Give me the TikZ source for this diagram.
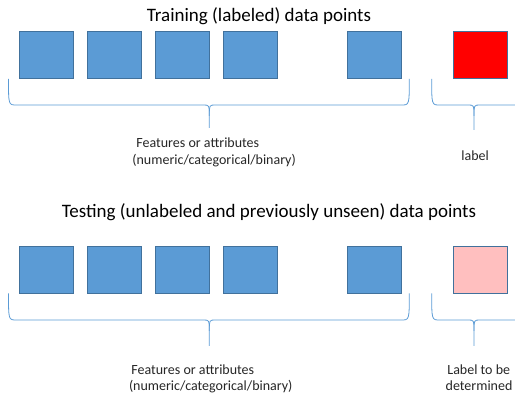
\documentclass[tikz,border=0pt]{standalone}
\usepackage{fontspec}
\setmainfont{Carlito}
\definecolor{featfill}{HTML}{5B9BD5}
\definecolor{featedge}{HTML}{41719C}
\definecolor{labred}{HTML}{FF0000}
\definecolor{labpink}{HTML}{FFBFBF}
\definecolor{bracecol}{HTML}{5B9BD5}
\tikzset{
  cell/.style={draw=featedge, line width=0.8pt, minimum width=54pt, minimum height=47.5pt, inner sep=0pt, anchor=north west},
  feat/.style={cell, fill=featfill},
  title/.style={font=\fontsize{19}{23}\selectfont, inner sep=0pt, anchor=base},
  note/.style={font=\fontsize{14}{17}\selectfont, inner sep=0pt, anchor=base west, text=black!85},
  bracestyle/.style={draw=bracecol, line width=0.8pt},
}
% horizontal brace opening upward: #1 left x, #2 right x, #3 tip x, #4 top y, #5 bar y, #6 tip end y
\newcommand{\hbrace}[6]{%
  \draw[bracestyle] (#1,#4) .. controls (#1,#5) and (#1,#5) .. ({#1+8},#5)
    -- ({#3-6},#5) .. controls (#3,#5) and (#3,#5) .. (#3,{#5+11}) -- (#3,#6);
  \draw[bracestyle] (#3,{#5+11}) .. controls (#3,#5) and (#3,#5) .. ({#3+6},#5)
    -- ({#2-8},#5) .. controls (#2,#5) and (#2,#5) .. (#2,#4);
}
\begin{document}
\begin{tikzpicture}[x=1pt,y=-1pt]
\useasboundingbox (0,0) rectangle (515,395);

% ---- training set ----
\node[title] (ttrain) at (259,22) {Training (labeled) data points};
\node[feat] (a1) at (19.3,31) {};
\node[feat] (a2) at (87.3,31) {};
\node[feat] (a3) at (155,31) {};
\node[feat] (a4) at (223,31) {};
\node[feat] (a5) at (347.3,31) {};
\node[cell, fill=labred] (ay) at (453,31) {};
\hbrace{8.5}{409.3}{209.3}{79}{105}{128}
\hbrace{431.7}{532}{474}{79}{105}{130}
\node[note] (af1) at (136.2,147.5) {Features or attributes};
\node[note] (af2) at (132.2,164.3) {(numeric/categorical/binary)};
\node[note] (al) at (461.2,160.7) {label};

% ---- testing set ----
\node[title] (ttest) at (269,218) {Testing (unlabeled and previously unseen) data points};
\node[feat] (b1) at (19.3,246) {};
\node[feat] (b2) at (87.3,246) {};
\node[feat] (b3) at (155,246) {};
\node[feat] (b4) at (223,246) {};
\node[feat] (b5) at (347.3,246) {};
\node[cell, fill=labpink] (by) at (453,246) {};
\hbrace{8.5}{409.3}{209.3}{293.3}{320}{346}
\hbrace{431.7}{532}{474}{293.3}{320}{346}
\node[note] (bf1) at (131.2,374.3) {Features or attributes};
\node[note] (bf2) at (128.8,390.7) {(numeric/categorical/binary)};
\node[note] (bl1) at (447.2,374.3) {Label to be};
\node[note] (bl2) at (445.5,390.7) {determined};
\end{tikzpicture}
\end{document}
